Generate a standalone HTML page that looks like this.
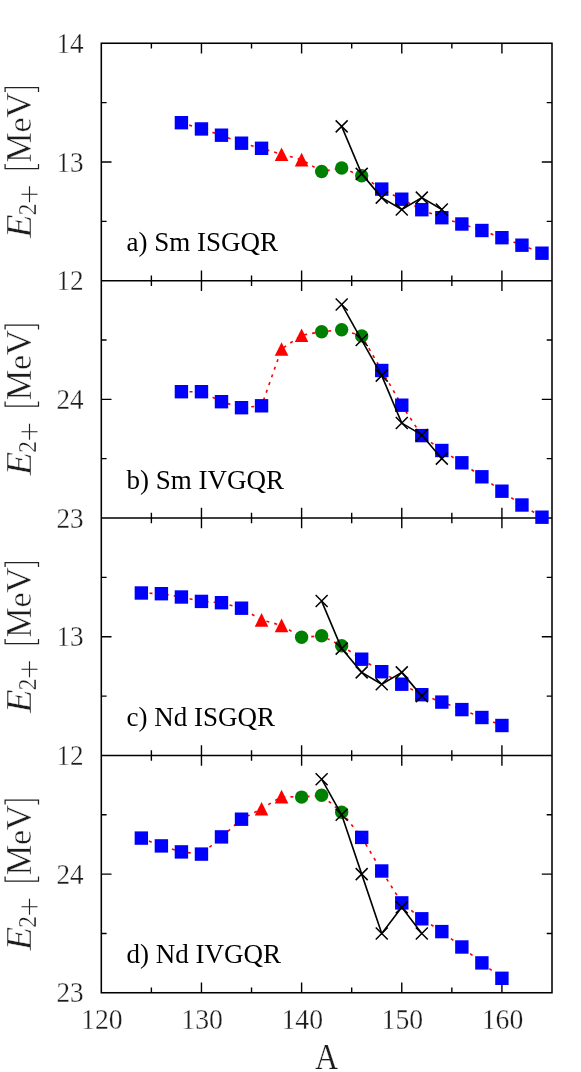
<!DOCTYPE html>
<html><head><meta charset="utf-8"><title>GQR energies</title>
<style>html,body{margin:0;padding:0;background:#fff}svg{display:block;will-change:transform}</style></head>
<body>
<svg width="581" height="1072" viewBox="0 0 581 1072">
<rect width="581" height="1072" fill="#fff"/>
<path d="M151.38,43.25V48.55M201.46,43.25V53.45M251.53,43.25V48.55M301.61,43.25V53.45M351.69,43.25V48.55M401.77,43.25V53.45M451.84,43.25V48.55M501.92,43.25V53.45M151.38,275.45V286.05M201.46,270.55V290.95M251.53,275.45V286.05M301.61,270.55V290.95M351.69,275.45V286.05M401.77,270.55V290.95M451.84,275.45V286.05M501.92,270.55V290.95M151.38,512.65V523.25M201.46,507.75V528.15M251.53,512.65V523.25M301.61,507.75V528.15M351.69,512.65V523.25M401.77,507.75V528.15M451.84,512.65V523.25M501.92,507.75V528.15M151.38,750.20V760.80M201.46,745.30V765.70M251.53,750.20V760.80M301.61,745.30V765.70M351.69,750.20V760.80M401.77,745.30V765.70M451.84,750.20V760.80M501.92,745.30V765.70M151.38,987.45V992.75M201.46,982.55V992.75M251.53,987.45V992.75M301.61,982.55V992.75M351.69,987.45V992.75M401.77,982.55V992.75M451.84,987.45V992.75M501.92,982.55V992.75M101.30,102.62h5.3M552.00,102.62h-5.3M101.30,162.00h10.2M552.00,162.00h-10.2M101.30,221.38h5.3M552.00,221.38h-5.3M101.30,340.05h5.3M552.00,340.05h-5.3M101.30,399.35h10.2M552.00,399.35h-10.2M101.30,458.65h5.3M552.00,458.65h-5.3M101.30,577.34h5.3M552.00,577.34h-5.3M101.30,636.73h10.2M552.00,636.73h-10.2M101.30,696.11h5.3M552.00,696.11h-5.3M101.30,814.81h5.3M552.00,814.81h-5.3M101.30,874.12h10.2M552.00,874.12h-10.2M101.30,933.44h5.3M552.00,933.44h-5.3" fill="none" stroke="#000" stroke-width="1.4"/>
<rect x="101.3" y="43.25" width="450.70" height="949.50" fill="none" stroke="#000" stroke-width="1.55"/>
<path d="M101.3,280.75H552.0M101.3,517.95H552.0M101.3,755.5H552.0" fill="none" stroke="#000" stroke-width="1.55"/>
<polyline points="181.42,122.70 201.46,128.95 221.49,135.20 241.52,143.20 261.55,148.30 281.58,154.30 301.61,159.65 321.64,171.50 341.67,168.00 361.70,175.80 381.74,189.10 401.77,199.20 421.80,209.70 441.83,217.70 461.86,224.00 481.89,230.50 501.92,237.70 521.95,245.20 541.98,253.20" fill="none" stroke="#ff0000" stroke-width="1.6" stroke-dasharray="3 5.12" stroke-dashoffset="0"/>
<rect x="174.72" y="116.00" width="13.4" height="13.4" fill="#0000ff"/>
<rect x="194.76" y="122.25" width="13.4" height="13.4" fill="#0000ff"/>
<rect x="214.79" y="128.50" width="13.4" height="13.4" fill="#0000ff"/>
<rect x="234.82" y="136.50" width="13.4" height="13.4" fill="#0000ff"/>
<rect x="254.85" y="141.60" width="13.4" height="13.4" fill="#0000ff"/>
<rect x="375.04" y="182.40" width="13.4" height="13.4" fill="#0000ff"/>
<rect x="395.07" y="192.50" width="13.4" height="13.4" fill="#0000ff"/>
<rect x="415.10" y="203.00" width="13.4" height="13.4" fill="#0000ff"/>
<rect x="435.13" y="211.00" width="13.4" height="13.4" fill="#0000ff"/>
<rect x="455.16" y="217.30" width="13.4" height="13.4" fill="#0000ff"/>
<rect x="475.19" y="223.80" width="13.4" height="13.4" fill="#0000ff"/>
<rect x="495.22" y="231.00" width="13.4" height="13.4" fill="#0000ff"/>
<rect x="515.25" y="238.50" width="13.4" height="13.4" fill="#0000ff"/>
<rect x="535.28" y="246.50" width="13.4" height="13.4" fill="#0000ff"/>
<path d="M274.78,161.10L281.58,147.50L288.38,161.10Z" fill="#ff0000"/>
<path d="M294.81,166.45L301.61,152.85L308.41,166.45Z" fill="#ff0000"/>
<circle cx="321.64" cy="171.50" r="6.7" fill="#008000"/>
<circle cx="341.67" cy="168.00" r="6.7" fill="#008000"/>
<circle cx="361.70" cy="175.80" r="6.7" fill="#008000"/>
<polyline points="341.67,126.37 361.70,173.87 381.74,197.63 401.77,209.50 421.80,197.63 441.83,209.50" fill="none" stroke="#000" stroke-width="1.6" stroke-linejoin="round"/>
<path d="M335.67,120.37L347.67,132.37M335.67,132.37L347.67,120.37M355.70,167.87L367.70,179.87M355.70,179.87L367.70,167.87M375.74,191.63L387.74,203.63M375.74,203.63L387.74,191.63M395.77,203.50L407.77,215.50M395.77,215.50L407.77,203.50M415.80,191.63L427.80,203.63M415.80,203.63L427.80,191.63M435.83,203.50L447.83,215.50M435.83,215.50L447.83,203.50" fill="none" stroke="#000" stroke-width="1.5"/>
<polyline points="181.42,391.70 201.46,391.70 221.49,401.70 241.52,407.70 261.55,405.80 281.58,349.00 301.61,335.30 321.64,331.70 341.67,329.80 361.70,335.90 381.74,370.50 401.77,405.20 421.80,435.60 441.83,450.50 461.86,462.80 481.89,476.80 501.92,491.20 521.95,505.00 541.98,517.20" fill="none" stroke="#ff0000" stroke-width="1.6" stroke-dasharray="3 5.12" stroke-dashoffset="0"/>
<rect x="174.72" y="385.00" width="13.4" height="13.4" fill="#0000ff"/>
<rect x="194.76" y="385.00" width="13.4" height="13.4" fill="#0000ff"/>
<rect x="214.79" y="395.00" width="13.4" height="13.4" fill="#0000ff"/>
<rect x="234.82" y="401.00" width="13.4" height="13.4" fill="#0000ff"/>
<rect x="254.85" y="399.10" width="13.4" height="13.4" fill="#0000ff"/>
<rect x="375.04" y="363.80" width="13.4" height="13.4" fill="#0000ff"/>
<rect x="395.07" y="398.50" width="13.4" height="13.4" fill="#0000ff"/>
<rect x="415.10" y="428.90" width="13.4" height="13.4" fill="#0000ff"/>
<rect x="435.13" y="443.80" width="13.4" height="13.4" fill="#0000ff"/>
<rect x="455.16" y="456.10" width="13.4" height="13.4" fill="#0000ff"/>
<rect x="475.19" y="470.10" width="13.4" height="13.4" fill="#0000ff"/>
<rect x="495.22" y="484.50" width="13.4" height="13.4" fill="#0000ff"/>
<rect x="515.25" y="498.30" width="13.4" height="13.4" fill="#0000ff"/>
<rect x="535.28" y="510.50" width="13.4" height="13.4" fill="#0000ff"/>
<path d="M274.78,355.80L281.58,342.20L288.38,355.80Z" fill="#ff0000"/>
<path d="M294.81,342.10L301.61,328.50L308.41,342.10Z" fill="#ff0000"/>
<circle cx="321.64" cy="331.70" r="6.7" fill="#008000"/>
<circle cx="341.67" cy="329.80" r="6.7" fill="#008000"/>
<circle cx="361.70" cy="335.90" r="6.7" fill="#008000"/>
<polyline points="341.67,304.47 361.70,340.05 381.74,375.63 401.77,423.07 421.80,434.93 441.83,458.65" fill="none" stroke="#000" stroke-width="1.6" stroke-linejoin="round"/>
<path d="M335.67,298.47L347.67,310.47M335.67,310.47L347.67,298.47M355.70,334.05L367.70,346.05M355.70,346.05L367.70,334.05M375.74,369.63L387.74,381.63M375.74,381.63L387.74,369.63M395.77,417.07L407.77,429.07M395.77,429.07L407.77,417.07M415.80,428.93L427.80,440.93M415.80,440.93L427.80,428.93M435.83,452.65L447.83,464.65M435.83,464.65L447.83,452.65" fill="none" stroke="#000" stroke-width="1.5"/>
<polyline points="141.36,593.00 161.39,593.70 181.42,597.00 201.46,601.40 221.49,602.70 241.52,608.20 261.55,619.90 281.58,625.40 301.61,637.30 321.64,635.80 341.67,645.70 361.70,659.20 381.74,671.70 401.77,684.20 421.80,694.70 441.83,702.10 461.86,709.60 481.89,717.50 501.92,725.50" fill="none" stroke="#ff0000" stroke-width="1.6" stroke-dasharray="3 5.12" stroke-dashoffset="0"/>
<rect x="134.66" y="586.30" width="13.4" height="13.4" fill="#0000ff"/>
<rect x="154.69" y="587.00" width="13.4" height="13.4" fill="#0000ff"/>
<rect x="174.72" y="590.30" width="13.4" height="13.4" fill="#0000ff"/>
<rect x="194.76" y="594.70" width="13.4" height="13.4" fill="#0000ff"/>
<rect x="214.79" y="596.00" width="13.4" height="13.4" fill="#0000ff"/>
<rect x="234.82" y="601.50" width="13.4" height="13.4" fill="#0000ff"/>
<rect x="355.00" y="652.50" width="13.4" height="13.4" fill="#0000ff"/>
<rect x="375.04" y="665.00" width="13.4" height="13.4" fill="#0000ff"/>
<rect x="395.07" y="677.50" width="13.4" height="13.4" fill="#0000ff"/>
<rect x="415.10" y="688.00" width="13.4" height="13.4" fill="#0000ff"/>
<rect x="435.13" y="695.40" width="13.4" height="13.4" fill="#0000ff"/>
<rect x="455.16" y="702.90" width="13.4" height="13.4" fill="#0000ff"/>
<rect x="475.19" y="710.80" width="13.4" height="13.4" fill="#0000ff"/>
<rect x="495.22" y="718.80" width="13.4" height="13.4" fill="#0000ff"/>
<path d="M254.75,626.70L261.55,613.10L268.35,626.70Z" fill="#ff0000"/>
<path d="M274.78,632.20L281.58,618.60L288.38,632.20Z" fill="#ff0000"/>
<circle cx="301.61" cy="637.30" r="6.7" fill="#008000"/>
<circle cx="321.64" cy="635.80" r="6.7" fill="#008000"/>
<circle cx="341.67" cy="645.70" r="6.7" fill="#008000"/>
<polyline points="321.64,601.09 341.67,648.60 361.70,672.36 381.74,684.24 401.77,672.36 421.80,696.11" fill="none" stroke="#000" stroke-width="1.6" stroke-linejoin="round"/>
<path d="M315.64,595.09L327.64,607.09M315.64,607.09L327.64,595.09M335.67,642.60L347.67,654.60M335.67,654.60L347.67,642.60M355.70,666.36L367.70,678.36M355.70,678.36L367.70,666.36M375.74,678.24L387.74,690.24M375.74,690.24L387.74,678.24M395.77,666.36L407.77,678.36M395.77,678.36L407.77,666.36M415.80,690.11L427.80,702.11M415.80,702.11L427.80,690.11" fill="none" stroke="#000" stroke-width="1.5"/>
<polyline points="141.36,838.10 161.39,845.90 181.42,851.90 201.46,854.10 221.49,836.90 241.52,819.20 261.55,808.70 281.58,796.60 301.61,797.10 321.64,795.30 341.67,812.30 361.70,837.40 381.74,871.00 401.77,902.90 421.80,918.80 441.83,931.60 461.86,947.00 481.89,962.90 501.92,978.30" fill="none" stroke="#ff0000" stroke-width="1.6" stroke-dasharray="3 5.12" stroke-dashoffset="0"/>
<rect x="134.66" y="831.40" width="13.4" height="13.4" fill="#0000ff"/>
<rect x="154.69" y="839.20" width="13.4" height="13.4" fill="#0000ff"/>
<rect x="174.72" y="845.20" width="13.4" height="13.4" fill="#0000ff"/>
<rect x="194.76" y="847.40" width="13.4" height="13.4" fill="#0000ff"/>
<rect x="214.79" y="830.20" width="13.4" height="13.4" fill="#0000ff"/>
<rect x="234.82" y="812.50" width="13.4" height="13.4" fill="#0000ff"/>
<rect x="355.00" y="830.70" width="13.4" height="13.4" fill="#0000ff"/>
<rect x="375.04" y="864.30" width="13.4" height="13.4" fill="#0000ff"/>
<rect x="395.07" y="896.20" width="13.4" height="13.4" fill="#0000ff"/>
<rect x="415.10" y="912.10" width="13.4" height="13.4" fill="#0000ff"/>
<rect x="435.13" y="924.90" width="13.4" height="13.4" fill="#0000ff"/>
<rect x="455.16" y="940.30" width="13.4" height="13.4" fill="#0000ff"/>
<rect x="475.19" y="956.20" width="13.4" height="13.4" fill="#0000ff"/>
<rect x="495.22" y="971.60" width="13.4" height="13.4" fill="#0000ff"/>
<path d="M254.75,815.50L261.55,801.90L268.35,815.50Z" fill="#ff0000"/>
<path d="M274.78,803.40L281.58,789.80L288.38,803.40Z" fill="#ff0000"/>
<circle cx="301.61" cy="797.10" r="6.7" fill="#008000"/>
<circle cx="321.64" cy="795.30" r="6.7" fill="#008000"/>
<circle cx="341.67" cy="812.30" r="6.7" fill="#008000"/>
<polyline points="321.64,779.22 341.67,814.81 361.70,874.12 381.74,933.44 401.77,907.34 421.80,933.44" fill="none" stroke="#000" stroke-width="1.6" stroke-linejoin="round"/>
<path d="M315.64,773.22L327.64,785.22M315.64,785.22L327.64,773.22M335.67,808.81L347.67,820.81M335.67,820.81L347.67,808.81M355.70,868.12L367.70,880.12M355.70,880.12L367.70,868.12M375.74,927.44L387.74,939.44M375.74,939.44L387.74,927.44M395.77,901.34L407.77,913.34M395.77,913.34L407.77,901.34M415.80,927.44L427.80,939.44M415.80,939.44L427.80,927.44" fill="none" stroke="#000" stroke-width="1.5"/>
<g font-family="'Liberation Serif', serif" fill="#1c1c1c" stroke="#fff" stroke-width="0.45">
<text transform="translate(83.60,52.85) scale(0.905,1)" font-size="30.0" text-anchor="end" stroke-width="0.3">14</text>
<text transform="translate(83.60,171.60) scale(0.905,1)" font-size="30.0" text-anchor="end" stroke-width="0.3">13</text>
<text transform="translate(83.60,290.35) scale(0.905,1)" font-size="30.0" text-anchor="end" stroke-width="0.3">12</text>
<text transform="translate(83.60,408.95) scale(0.905,1)" font-size="30.0" text-anchor="end" stroke-width="0.3">24</text>
<text transform="translate(83.60,527.55) scale(0.905,1)" font-size="30.0" text-anchor="end" stroke-width="0.3">23</text>
<text transform="translate(83.60,646.33) scale(0.905,1)" font-size="30.0" text-anchor="end" stroke-width="0.3">13</text>
<text transform="translate(83.60,765.10) scale(0.905,1)" font-size="30.0" text-anchor="end" stroke-width="0.3">12</text>
<text transform="translate(83.60,883.73) scale(0.905,1)" font-size="30.0" text-anchor="end" stroke-width="0.3">24</text>
<text transform="translate(83.60,1002.35) scale(0.905,1)" font-size="30.0" text-anchor="end" stroke-width="0.3">23</text>
<text transform="translate(101.90,1028.80) scale(0.925,1)" font-size="30.0" text-anchor="middle" stroke-width="0.3">120</text>
<text transform="translate(202.06,1028.80) scale(0.925,1)" font-size="30.0" text-anchor="middle" stroke-width="0.3">130</text>
<text transform="translate(302.21,1028.80) scale(0.925,1)" font-size="30.0" text-anchor="middle" stroke-width="0.3">140</text>
<text transform="translate(402.37,1028.80) scale(0.925,1)" font-size="30.0" text-anchor="middle" stroke-width="0.3">150</text>
<text transform="translate(502.52,1028.80) scale(0.925,1)" font-size="30.0" text-anchor="middle" stroke-width="0.3">160</text>
<text transform="translate(326.50,1068.60) scale(0.885,1)" font-size="36.3" text-anchor="middle" stroke-width="0.25">A</text>
<text transform="translate(126.60,251.05) scale(1.0,1)" font-size="27.0" text-anchor="start" fill="#000" stroke="none">a) Sm ISGQR</text>
<text transform="translate(126.60,488.55) scale(1.0,1)" font-size="27.0" text-anchor="start" fill="#000" stroke="none">b) Sm IVGQR</text>
<text transform="translate(126.60,725.75) scale(1.0,1)" font-size="27.0" text-anchor="start" fill="#000" stroke="none">c) Nd ISGQR</text>
<text transform="translate(126.60,963.30) scale(1.0,1)" font-size="27.0" text-anchor="start" fill="#000" stroke="none">d) Nd IVGQR</text>
<g transform="translate(31,238.70) rotate(-90)">
<text transform="translate(0.77,0.00) scale(1.05,1)" font-size="36.8" text-anchor="start" font-style="italic">E</text>
<text transform="translate(23.57,4.70) scale(0.96,1)" font-size="24.3" text-anchor="start" stroke-width="0.25">2</text>
<path d="M36.5,-1.5h16M44.5,-9.5v16" fill="none" stroke="#222" stroke-width="1.15"/>
<path d="M74.6,-25.9H70.2V7.5H74.6M146.7,-25.9H151V7.5H146.7" fill="none" stroke="#222" stroke-width="1.25"/>
<text transform="translate(76.02,0.00) scale(0.93,1)" font-size="36.8" text-anchor="start">M</text>
<text transform="translate(106.28,0.00) scale(1.0,1)" font-size="34.0" text-anchor="start">e</text>
<text transform="translate(120.64,0.00) scale(0.97,1)" font-size="36.8" text-anchor="start">V</text>
</g>
<g transform="translate(31,476.20) rotate(-90)">
<text transform="translate(0.77,0.00) scale(1.05,1)" font-size="36.8" text-anchor="start" font-style="italic">E</text>
<text transform="translate(23.57,4.70) scale(0.96,1)" font-size="24.3" text-anchor="start" stroke-width="0.25">2</text>
<path d="M36.5,-1.5h16M44.5,-9.5v16" fill="none" stroke="#222" stroke-width="1.15"/>
<path d="M74.6,-25.9H70.2V7.5H74.6M146.7,-25.9H151V7.5H146.7" fill="none" stroke="#222" stroke-width="1.25"/>
<text transform="translate(76.02,0.00) scale(0.93,1)" font-size="36.8" text-anchor="start">M</text>
<text transform="translate(106.28,0.00) scale(1.0,1)" font-size="34.0" text-anchor="start">e</text>
<text transform="translate(120.64,0.00) scale(0.97,1)" font-size="36.8" text-anchor="start">V</text>
</g>
<g transform="translate(31,713.70) rotate(-90)">
<text transform="translate(0.77,0.00) scale(1.05,1)" font-size="36.8" text-anchor="start" font-style="italic">E</text>
<text transform="translate(23.57,4.70) scale(0.96,1)" font-size="24.3" text-anchor="start" stroke-width="0.25">2</text>
<path d="M36.5,-1.5h16M44.5,-9.5v16" fill="none" stroke="#222" stroke-width="1.15"/>
<path d="M74.6,-25.9H70.2V7.5H74.6M146.7,-25.9H151V7.5H146.7" fill="none" stroke="#222" stroke-width="1.25"/>
<text transform="translate(76.02,0.00) scale(0.93,1)" font-size="36.8" text-anchor="start">M</text>
<text transform="translate(106.28,0.00) scale(1.0,1)" font-size="34.0" text-anchor="start">e</text>
<text transform="translate(120.64,0.00) scale(0.97,1)" font-size="36.8" text-anchor="start">V</text>
</g>
<g transform="translate(31,951.20) rotate(-90)">
<text transform="translate(0.77,0.00) scale(1.05,1)" font-size="36.8" text-anchor="start" font-style="italic">E</text>
<text transform="translate(23.57,4.70) scale(0.96,1)" font-size="24.3" text-anchor="start" stroke-width="0.25">2</text>
<path d="M36.5,-1.5h16M44.5,-9.5v16" fill="none" stroke="#222" stroke-width="1.15"/>
<path d="M74.6,-25.9H70.2V7.5H74.6M146.7,-25.9H151V7.5H146.7" fill="none" stroke="#222" stroke-width="1.25"/>
<text transform="translate(76.02,0.00) scale(0.93,1)" font-size="36.8" text-anchor="start">M</text>
<text transform="translate(106.28,0.00) scale(1.0,1)" font-size="34.0" text-anchor="start">e</text>
<text transform="translate(120.64,0.00) scale(0.97,1)" font-size="36.8" text-anchor="start">V</text>
</g>
</g>
</svg>
</body></html>
